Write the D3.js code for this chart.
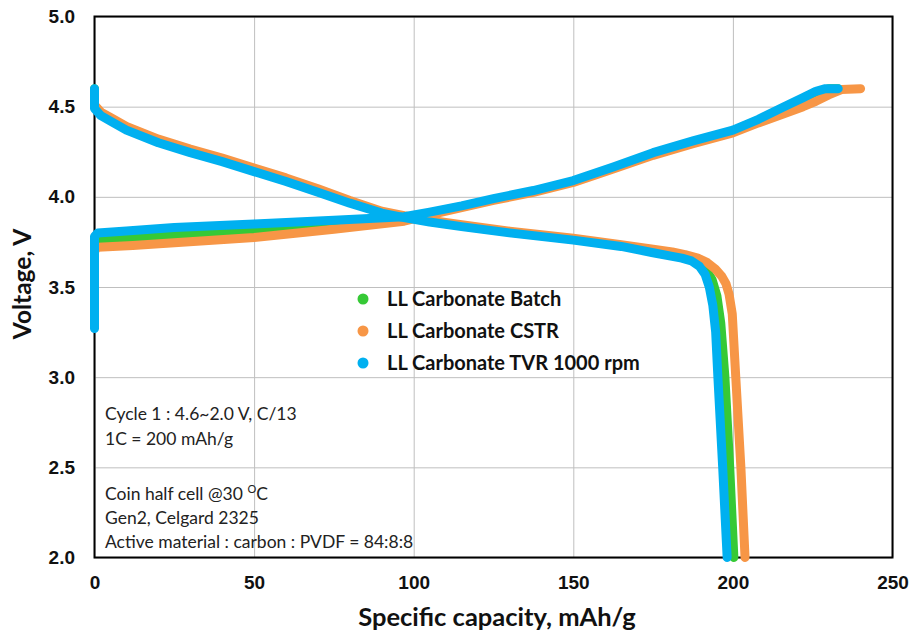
<!DOCTYPE html>
<html>
<head>
<meta charset="utf-8">
<script src="https://cdn.jsdelivr.net/npm/d3@7"></script>
<style>
  body { margin: 0; background: #fff; }
  svg { font-family: Lato, "Open Sans", sans-serif; }
  .grid line { stroke: #bfbfbf; stroke-width: 1; }
  .grid path { display: none; }
  .tick-label { font-weight: bold; font-size: 19px; fill: #111; }
  .note { font-size: 17.5px; fill: #222; }
</style>
</head>
<body>
<div class="graph"></div>
<script>
// series names (legend order)
const seriesNames = ['LL Carbonate Batch', 'LL Carbonate CSTR', 'LL Carbonate TVR 1000 rpm'];

// charge curves: capacity (mAh/g) and voltage (V)
const batchChargeCap = [0, 0, 1, 12, 25, 50, 75, 97, 105, 115, 125, 137.5, 150, 162.5, 175, 187.5, 200, 208, 216, 222, 226, 230, 233];
const batchChargeV   = [3.28, 3.74, 3.76, 3.77, 3.785, 3.805, 3.84, 3.88, 3.91, 3.945, 3.985, 4.03, 4.085, 4.16, 4.24, 4.305, 4.365, 4.425, 4.49, 4.54, 4.575, 4.60, 4.60];
const cstrChargeCap  = [0, 0, 1, 12, 25, 50, 75, 97, 105, 115, 125, 137.5, 150, 162.5, 175, 187.5, 200, 208, 216, 222, 226, 230, 234, 240];
const cstrChargeV    = [3.28, 3.70, 3.72, 3.73, 3.745, 3.775, 3.82, 3.865, 3.90, 3.94, 3.98, 4.025, 4.08, 4.155, 4.23, 4.295, 4.355, 4.41, 4.46, 4.50, 4.53, 4.565, 4.595, 4.60];
const tvrChargeCap   = [0, 0, 1, 10, 25, 50, 75, 97, 105, 115, 125, 137.5, 150, 162.5, 175, 187.5, 200, 208, 216, 222, 226, 229, 233];
const tvrChargeV     = [3.27, 3.78, 3.80, 3.81, 3.83, 3.85, 3.87, 3.89, 3.915, 3.95, 3.99, 4.035, 4.09, 4.165, 4.245, 4.31, 4.37, 4.43, 4.50, 4.55, 4.585, 4.60, 4.60];

// discharge curves
const batchDischargeCap = [0, 0, 2, 5, 10, 20, 30, 40, 50, 60, 70, 80, 90, 97, 105, 115, 130, 150, 165, 175, 181, 185, 188.5, 191.5, 193.5, 195, 196.2, 197.5, 199, 200.3];
const batchDischargeV   = [4.60, 4.50, 4.46, 4.43, 4.375, 4.305, 4.25, 4.20, 4.145, 4.09, 4.03, 3.97, 3.915, 3.89, 3.865, 3.84, 3.805, 3.765, 3.73, 3.70, 3.68, 3.665, 3.64, 3.60, 3.54, 3.45, 3.30, 3.0, 2.5, 2.0];
const cstrDischargeCap  = [0, 0, 2, 5, 10, 20, 30, 40, 50, 60, 70, 80, 90, 97, 105, 115, 130, 150, 165, 175, 181, 185, 189, 192, 194.5, 196.5, 197.8, 198.8, 199.8, 200.9, 202.5, 203.8];
const cstrDischargeV    = [4.59, 4.51, 4.47, 4.44, 4.39, 4.32, 4.265, 4.215, 4.16, 4.105, 4.045, 3.98, 3.92, 3.895, 3.87, 3.845, 3.81, 3.77, 3.735, 3.71, 3.695, 3.68, 3.66, 3.635, 3.60, 3.56, 3.52, 3.46, 3.35, 3.0, 2.5, 2.0];
const tvrDischargeCap   = [0, 0, 2, 5, 10, 20, 30, 40, 50, 60, 70, 80, 90, 97, 105, 115, 130, 150, 165, 175, 181, 184, 187, 189.5, 191.3, 192.6, 193.7, 194.6, 195.3, 196.8, 198.2];
const tvrDischargeV     = [4.60, 4.49, 4.45, 4.42, 4.37, 4.30, 4.245, 4.195, 4.14, 4.085, 4.025, 3.965, 3.91, 3.885, 3.86, 3.835, 3.80, 3.76, 3.725, 3.69, 3.67, 3.66, 3.645, 3.615, 3.57, 3.50, 3.40, 3.25, 3.0, 2.5, 2.0];

// axis ticks
const xTicks = [0, 50, 100, 150, 200, 250];
const yTicks = [2.0, 2.5, 3.0, 3.5, 4.0, 4.5, 5.0];

// annotation text
const notesTop = ['Cycle 1 : 4.6~2.0 V, C/13', '1C = 200 mAh/g'];
const notesBottom = ['Gen2, Celgard 2325', 'Active material : carbon : PVDF = 84:8:8'];

const width = 910, height = 635;
const margin = { top: 16, left: 94, right: 18, bottom: 78 };
const chartWidth = width - margin.left - margin.right;
const chartHeight = height - margin.top - margin.bottom;

const svg = d3.select('.graph')
    .append('svg')
    .attr('width', width)
    .attr('height', height);

const chart = svg.append('g')
    .attr('transform', `translate(${margin.left},${margin.top})`);

const xScale = d3.scaleLinear().domain([0, 250]).range([0.5, chartWidth + 0.5]);
const yScale = d3.scaleLinear().domain([2, 5]).range([chartHeight + 0.5, 0.5]);
const colorScale = d3.scaleOrdinal()
    .domain(seriesNames)
    .range(['#36c936', '#f79646', '#00b0f0']);

// gridlines + tick labels
chart.append('g')
    .classed('grid x', true)
    .attr('transform', `translate(0,${chartHeight})`)
    .call(d3.axisBottom(xScale).tickValues(xTicks).tickSize(-chartHeight).tickPadding(19).tickFormat(d3.format('d')));
chart.append('g')
    .classed('grid y', true)
    .call(d3.axisLeft(yScale).tickValues(yTicks).tickSize(-chartWidth).tickPadding(19).tickFormat(d3.format('.1f')));
chart.selectAll('.grid text')
    .classed('tick-label', true)
    .attr('font-family', null)
    .attr('font-size', null);
chart.selectAll('.grid .domain').remove();

// frame
chart.append('rect')
    .attr('x', xScale(0))
    .attr('y', yScale(5))
    .attr('width', xScale(250) - xScale(0))
    .attr('height', yScale(2) - yScale(5))
    .attr('fill', 'none')
    .attr('stroke', '#000')
    .attr('stroke-width', 2);

// curves
const series = [
    { name: seriesNames[0], parts: [[batchChargeCap, batchChargeV], [batchDischargeCap, batchDischargeV]] },
    { name: seriesNames[1], parts: [[cstrChargeCap, cstrChargeV], [cstrDischargeCap, cstrDischargeV]] },
    { name: seriesNames[2], parts: [[tvrChargeCap, tvrChargeV], [tvrDischargeCap, tvrDischargeV]] }
];

const line = d3.line()
    .x(d => xScale(d[0]))
    .y(d => yScale(d[1]));

series.forEach(s => {
    s.parts.forEach(([caps, volts]) => {
        chart.append('path')
            .datum(caps.map((c, i) => [c, volts[i]]))
            .attr('d', line)
            .attr('fill', 'none')
            .attr('stroke', colorScale(s.name))
            .attr('stroke-width', 9)
            .attr('stroke-linecap', 'round')
            .attr('stroke-linejoin', 'round');
    });
});

// legend
const legend = chart.append('g')
    .attr('transform', `translate(${363 - margin.left},${299 - margin.top})`);
const legendItem = legend.selectAll('.item')
    .data(seriesNames)
    .enter()
    .append('g')
    .attr('transform', (d, i) => `translate(0,${i * 32})`);
legendItem.append('circle')
    .attr('r', 5.5)
    .attr('fill', d => colorScale(d));
legendItem.append('text')
    .attr('x', 24)
    .attr('dy', '0.36em')
    .style('font-weight', 'bold')
    .style('font-size', '20px')
    .attr('fill', '#111')
    .text(d => d);

// notes
const notes = chart.append('g')
    .attr('transform', `translate(${105 - margin.left},0)`);
notes.selectAll('.n1')
    .data(notesTop)
    .enter()
    .append('text')
    .classed('note', true)
    .attr('y', (d, i) => 420 - margin.top + i * 24.5)
    .text(d => d);
const coin = notes.append('text')
    .classed('note', true)
    .attr('y', 500 - margin.top);
coin.append('tspan').text('Coin half cell @30 ');
coin.append('tspan').attr('dy', -7).style('font-size', '11px').text('O');
coin.append('tspan').attr('dy', 7).text('C');
notes.selectAll('.n2')
    .data(notesBottom)
    .enter()
    .append('text')
    .classed('note', true)
    .attr('y', (d, i) => 524 - margin.top + i * 23.5)
    .text(d => d);

// axis titles
svg.append('text')
    .attr('x', 497)
    .attr('y', 626)
    .attr('fill', '#111')
    .style('font-size', '25.5px')
    .style('font-weight', 'bold')
    .style('text-anchor', 'middle')
    .text('Specific capacity, mAh/g');
svg.append('text')
    .attr('transform', `translate(31, 284) rotate(-90)`)
    .attr('fill', '#111')
    .style('font-size', '24.5px')
    .style('font-weight', 'bold')
    .style('text-anchor', 'middle')
    .text('Voltage, V');
</script>
</body>
</html>
